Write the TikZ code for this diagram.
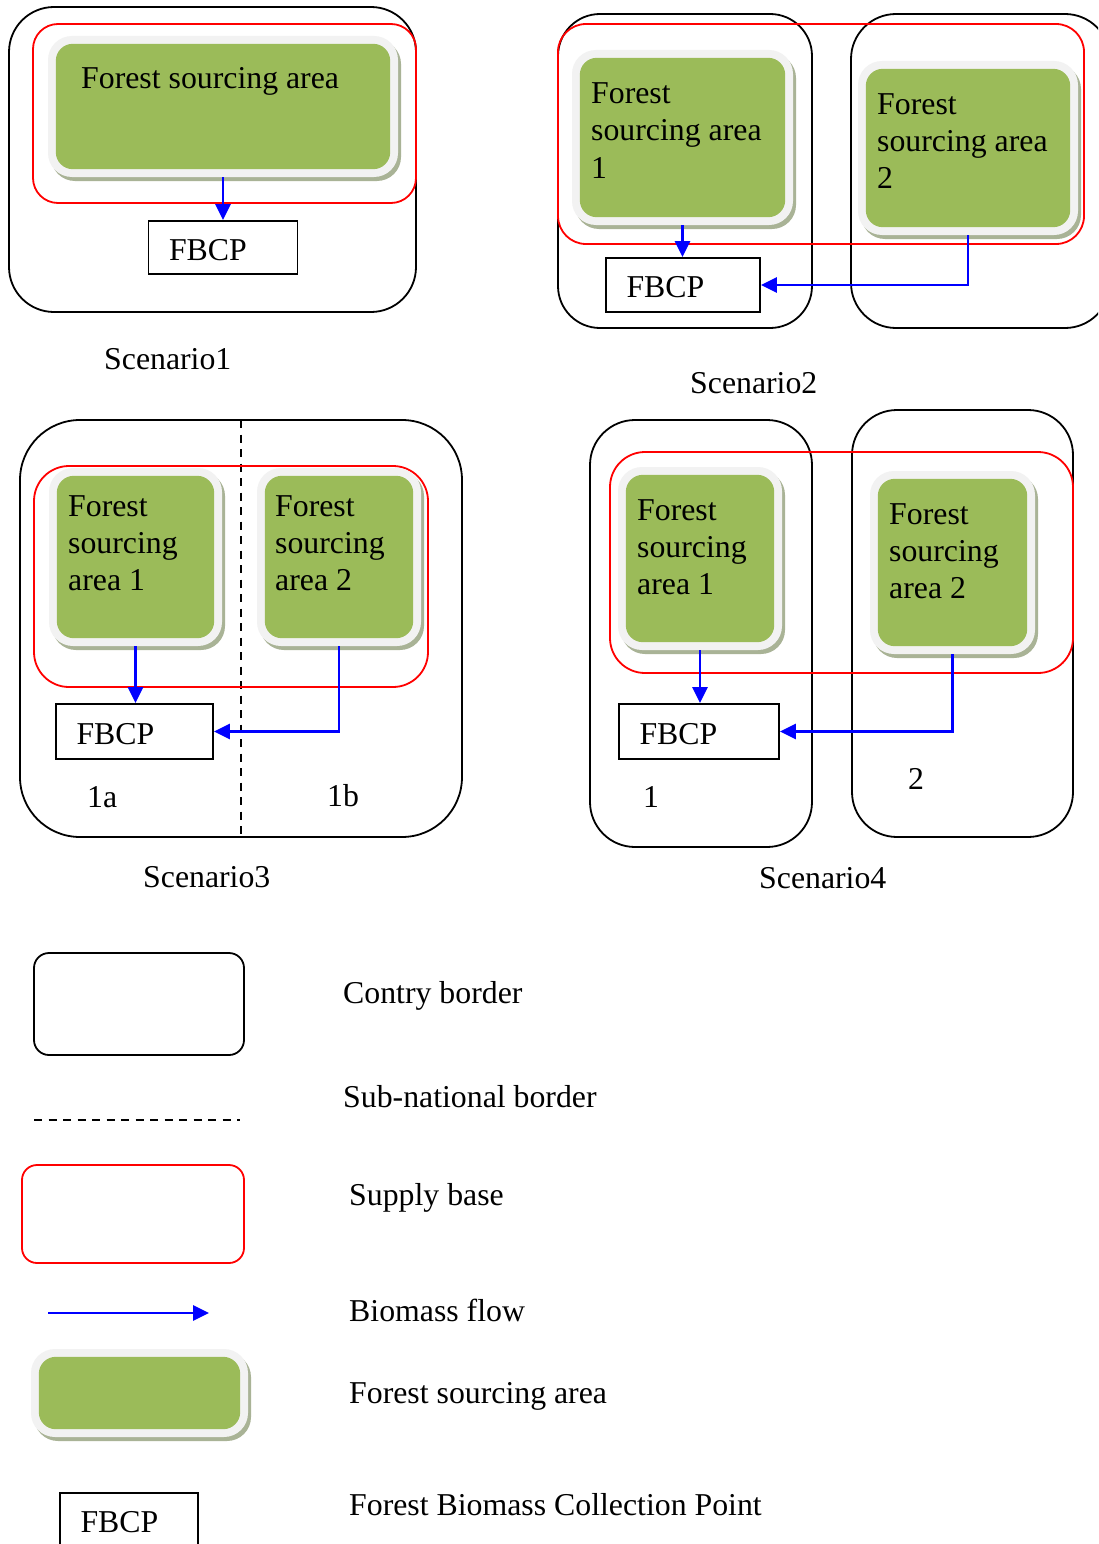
\documentclass[tikz,border=0pt]{standalone}
\usepackage{fontspec}
\setmainfont{Liberation Serif}
\usetikzlibrary{arrows.meta,shadows}
\definecolor{leafgreen}{HTML}{9BBB59}
\definecolor{halogrey}{HTML}{F2F2F2}
\definecolor{shadowgreen}{HTML}{A9B396}

% forest sourcing area: light halo with a drop shadow and a green core
% #1 name, #2 x1, #3 y1, #4 x2, #5 y2 (outer halo, pixel-like units, y downwards)
\newcommand\forestarea[5]{%
  \node[halo, minimum width={(#4-#2)*1pt}, minimum height={(#5-#3)*1pt}]
    (#1) at ({(#2+#4)/2},{(#3+#5)/2}) {};
  \fill[leafgreen, rounded corners=17pt]
    ([xshift=8pt,yshift=-8pt]#1.north west) rectangle ([xshift=-8pt,yshift=8pt]#1.south east);
}

\begin{document}
\begin{tikzpicture}[x=1pt, y=-1pt,
  font=\fontsize{31.8pt}{37pt}\selectfont,
  country/.style={draw=black, line width=1.8pt},
  supply/.style={draw=red, line width=1.8pt},
  subnat/.style={draw=black, line width=1.6pt, dash pattern=on 8pt off 6.5pt},
  halo/.style={rectangle, rounded corners=24pt, fill=halogrey, inner sep=0pt,
    drop shadow={shadow xshift=3pt, shadow yshift=-4pt, fill=shadowgreen, opacity=1}},
  fbcp/.style={draw=black, line width=1.8pt, rectangle, inner xsep=20.5pt, inner ysep=0pt,
    text height=25pt, text depth=0pt, align=left, fill=white},
  txt/.style={anchor=base west, inner sep=0pt, align=left},
  flow/.style={draw=blue, line width=2.8pt, -{Triangle[length=16pt,width=15pt]}}]

\clip (0,0) rectangle (1098,1544);
\fill[white] (0,0) rectangle (1098,1544);

% multi-line labels are anchored at the baseline of their last line

% ---------------- Scenario 1 ----------------
\draw[country, rounded corners=45pt] (9,7) rectangle (416,312);
\draw[supply, rounded corners=25pt] (33,24) rectangle (416,203);
\forestarea{sA}{48}{36}{398}{177}
\node[txt] (sAt) at (81,89) {Forest sourcing area};
\node[fbcp, text width=108pt, minimum height=53pt] (sAf) at (223,247.5) {FBCP};
\draw[flow] (sA.south) -- (sA.south |- sAf.north);
\node[txt] (sAl) at (104,369) {Scenario1};

% ---------------- Scenario 2 ----------------
\draw[country, rounded corners=42pt] (558,14) rectangle (812,328);
\draw[country, rounded corners=45pt] (851,14) rectangle (1110,328);
\draw[supply, rounded corners=28pt] (558,24) rectangle (1084,244);
\forestarea{sBa}{572}{50}{793}{225}
\forestarea{sBb}{858}{61}{1078}{235}
\node[txt] (sBat) at (591,178) {Forest\\sourcing area\\1};
\node[txt] (sBbt) at (877,188) {Forest\\sourcing area\\2};
\node[fbcp, text width=113pt, minimum height=54pt] (sBf) at (683,285) {FBCP};
\draw[flow] (sBa.south) -- (sBa.south |- sBf.north);
\draw[flow] (sBb.south) |- (sBf.east);
\node[txt] (sBl) at (690,393) {Scenario2};

% ---------------- Scenario 3 ----------------
\draw[country, rounded corners=60pt] (20,420) rectangle (462,837);
\coordinate (sCtop) at (241,420);
\coordinate (sCbot) at (241,837);
\draw[subnat] (sCtop) -- (sCbot);
\draw[supply, rounded corners=35pt] (34,466) rectangle (428,687);
\forestarea{sCa}{49}{468}{222}{646}
\forestarea{sCb}{257}{468}{421}{646}
\node[txt] (sCat) at (68,590) {Forest\\sourcing\\area 1};
\node[txt] (sCbt) at (275,590) {Forest\\sourcing\\area 2};
\node[fbcp, text width=116pt, minimum height=55pt] (sCf) at (134.5,731.5) {FBCP};
\draw[flow] (sCa.south) -- (sCa.south |- sCf.north);
\draw[flow] (sCb.south) |- (sCf.east);
\node[txt] (sC1a) at (87,807) {1a};
\node[txt] (sC1b) at (327,806) {1b};
\node[txt] (sCl) at (143,887) {Scenario3};

% ---------------- Scenario 4 ----------------
\draw[country, rounded corners=45pt] (590,420) rectangle (812,847);
\draw[country, rounded corners=45pt] (852,410) rectangle (1073,837);
\draw[supply, rounded corners=35pt] (610,452) rectangle (1073,673);
\forestarea{sDa}{618}{467}{782}{650}
\forestarea{sDb}{870}{471}{1035}{654}
\node[txt] (sDat) at (637,594) {Forest\\sourcing\\area 1};
\node[txt] (sDbt) at (889,598) {Forest\\sourcing\\area 2};
\node[fbcp, text width=119pt, minimum height=55pt] (sDf) at (699,731.5) {FBCP};
\draw[flow] (sDa.south) -- (sDa.south |- sDf.north);
\draw[flow] (sDb.south) |- (sDf.east);
\node[txt] (sD1) at (643,807) {1};
\node[txt] (sD2) at (908,789) {2};
\node[txt] (sDl) at (759,888) {Scenario4};

% ---------------- Legend ----------------
\draw[country, rounded corners=15pt] (34,953) rectangle (244,1055);
\node[txt] (lg1) at (343,1003) {Contry border};
\coordinate (dashL) at (34,1120);
\coordinate (dashR) at (240,1120);
\draw[subnat] (dashL) -- (dashR);
\node[txt] (lg2) at (343,1107) {Sub-national border};
\draw[supply, rounded corners=15pt] (22,1165) rectangle (244,1263);
\node[txt] (lg3) at (349,1205) {Supply base};
\coordinate (flowL) at (48,1313);
\coordinate (flowR) at (209,1313);
\draw[flow] (flowL) -- (flowR);
\node[txt] (lg4) at (349,1321) {Biomass flow};
\forestarea{lgA}{31}{1349}{248}{1437}
\node[txt] (lg5) at (349,1403) {Forest sourcing area};
\node[fbcp, text width=97pt, minimum height=53pt] (lgF) at (129,1519.5) {FBCP};
\node[txt] (lg6) at (349,1515) {Forest Biomass Collection Point};
\end{tikzpicture}
\end{document}
